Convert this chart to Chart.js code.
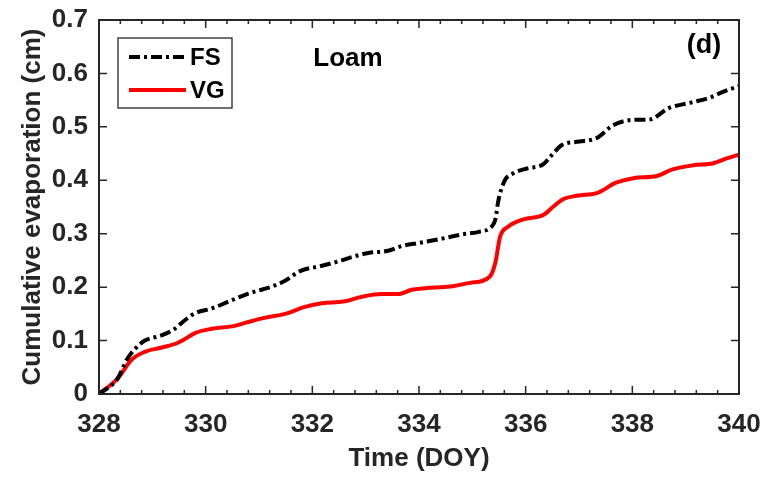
<!DOCTYPE html>
<html>
<head>
<meta charset="utf-8">
<script src="https://cdn.jsdelivr.net/npm/chart.js@4"></script>
<style>
  html, body { margin: 0; padding: 0; background: #ffffff; }
  #wrap { width: 771px; height: 477px; position: relative; }
</style>
</head>
<body>
<div id="wrap"><canvas id="myChart"></canvas></div>
<script>
// data (DOY vs cumulative evaporation, cm)
var fsDays = [328, 328.35, 328.52, 328.68, 328.86, 329.18, 329.39, 329.61, 329.8, 330.11, 330.43, 330.8, 331.08, 331.24, 331.49, 331.77, 332.18, 332.55, 332.8, 333.05, 333.42, 333.68, 334.02, 334.39, 334.83, 335.14, 335.36, 335.43, 335.49, 335.61, 335.77, 336.02, 336.33, 336.46, 336.68, 336.96, 337.33, 337.64, 338.02, 338.33, 338.68, 339.08, 339.46, 339.71, 340];
var fsValues = [0, 0.029, 0.064, 0.085, 0.1, 0.11, 0.12, 0.138, 0.151, 0.16, 0.173, 0.188, 0.196, 0.201, 0.212, 0.23, 0.24, 0.25, 0.258, 0.264, 0.268, 0.277, 0.283, 0.29, 0.299, 0.304, 0.313, 0.326, 0.363, 0.4, 0.413, 0.422, 0.43, 0.444, 0.466, 0.472, 0.479, 0.503, 0.513, 0.514, 0.535, 0.545, 0.555, 0.566, 0.576];

var vgDays = [328, 328.35, 328.61, 328.86, 329.18, 329.46, 329.58, 329.8, 330.11, 330.52, 330.74, 331.08, 331.49, 331.86, 332.18, 332.58, 332.93, 333.3, 333.61, 333.86, 334.11, 334.58, 334.96, 335.33, 335.43, 335.52, 335.67, 335.96, 336.33, 336.52, 336.71, 336.96, 337.36, 337.68, 338.02, 338.46, 338.74, 339.14, 339.52, 339.77, 340];
var vgValues = [0, 0.029, 0.064, 0.079, 0.087, 0.095, 0.101, 0.114, 0.122, 0.127, 0.133, 0.142, 0.15, 0.163, 0.17, 0.173, 0.182, 0.187, 0.187, 0.195, 0.198, 0.201, 0.208, 0.22, 0.245, 0.294, 0.313, 0.327, 0.335, 0.351, 0.365, 0.371, 0.377, 0.395, 0.404, 0.408, 0.42, 0.428, 0.432, 0.441, 0.448];

var seriesNames = ["FS", "VG"];
var xTickValues = [328, 330, 332, 334, 336, 338, 340];
var yTickValues = [0, 0.1, 0.2, 0.3, 0.4, 0.5, 0.6, 0.7];

var gFont = "'Liberation Sans', Arial, sans-serif";
var gAxisColor = "#262626";

function toPoints(paramX, paramY) {
   return paramX.map(function (item, i) {
      return { x: item, y: paramY[i] };
   });
}

//vẽ khung, vạch chia hướng vào trong, chú thích và nhãn
var framePlugin = {
   id: "frame",
   afterDraw: function (chart) {
      var ctx = chart.ctx;
      var area = chart.chartArea;
      var xScale = chart.scales.x;
      var yScale = chart.scales.y;
      ctx.save();
      ctx.strokeStyle = gAxisColor;
      ctx.lineWidth = 2;
      ctx.strokeRect(area.left, area.top, area.right - area.left, area.bottom - area.top);

      ctx.lineWidth = 1.5;
      ctx.beginPath();
      // minor ticks x (0.4 day)
      for (var k = 0; k <= 30; k++) {
         var px = xScale.getPixelForValue(328 + k * 0.4);
         var len = k % 5 == 0 ? 8 : 4;
         ctx.moveTo(px, area.bottom);
         ctx.lineTo(px, area.bottom - len);
         ctx.moveTo(px, area.top);
         ctx.lineTo(px, area.top + len);
      }
      yTickValues.forEach(function (v) {
         var py = yScale.getPixelForValue(v);
         ctx.moveTo(area.left, py);
         ctx.lineTo(area.left + 8, py);
         ctx.moveTo(area.right, py);
         ctx.lineTo(area.right - 8, py);
      });
      ctx.stroke();

      // legend box
      var bx = 118, by = 38, bw = 114, bh = 70;
      ctx.fillStyle = "#ffffff";
      ctx.fillRect(bx, by, bw, bh);
      ctx.strokeStyle = "#404040";
      ctx.lineWidth = 1.5;
      ctx.strokeRect(bx, by, bw, bh);
      ctx.font = "bold 24px " + gFont;
      ctx.textBaseline = "middle";
      ctx.textAlign = "left";
      chart.data.datasets.forEach(function (ds, i) {
         var ly = i == 0 ? 57 : 90;
         ctx.strokeStyle = ds.borderColor;
         ctx.lineWidth = ds.borderWidth;
         ctx.setLineDash(ds.borderDash || []);
         ctx.beginPath();
         ctx.moveTo(129, ly);
         ctx.lineTo(186, ly);
         ctx.stroke();
         ctx.setLineDash([]);
         ctx.fillStyle = "#000000";
         ctx.fillText(ds.label, 190, ly + 1);
      });

      // soil label and panel letter
      ctx.font = "bold 26px " + gFont;
      ctx.textAlign = "center";
      ctx.fillStyle = "#000000";
      ctx.fillText("Loam", 348, 59);
      ctx.font = "bold 27px " + gFont;
      ctx.fillText("(d)", 704, 46);
      ctx.restore();
   },
};

var chartCanvas = document.getElementById("myChart").getContext("2d");
var myChart = new Chart(chartCanvas, {
   type: "line",
   data: {
      datasets: [
         {
            label: seriesNames[0],
            data: toPoints(fsDays, fsValues),
            borderColor: "#000000",
            borderWidth: 4,
            borderDash: [11, 4, 3, 4],
            pointRadius: 0,
            cubicInterpolationMode: "monotone",
            fill: false,
         },
         {
            label: seriesNames[1],
            data: toPoints(vgDays, vgValues),
            borderColor: "#ff0000",
            borderWidth: 4,
            pointRadius: 0,
            cubicInterpolationMode: "monotone",
            fill: false,
         },
      ],
   },
   options: {
      responsive: true,
      maintainAspectRatio: false,
      animation: false,
      layout: { padding: { left: 0, top: 20, right: 32, bottom: 0 } },
      plugins: {
         legend: { display: false },
         tooltip: { enabled: false },
      },
      scales: {
         x: {
            type: "linear",
            min: 328,
            max: 340,
            afterFit: function (scale) {
               scale.height = 83;
               scale.paddingLeft = 0;
               scale.paddingRight = 0;
            },
            afterBuildTicks: function (scale) {
               scale.ticks = xTickValues.map(function (v) {
                  return { value: v };
               });
            },
            grid: { display: false, drawTicks: false },
            border: { display: false },
            ticks: {
               padding: 15,
               maxRotation: 0,
               color: gAxisColor,
               font: { family: gFont, size: 26, weight: "bold" },
            },
            title: {
               display: true,
               text: "Time (DOY)",
               color: gAxisColor,
               padding: { top: 0, bottom: 3 },
               font: { family: gFont, size: 26, weight: "bold" },
            },
         },
         y: {
            type: "linear",
            min: 0,
            max: 0.7,
            afterFit: function (scale) {
               scale.width = 99;
               scale.paddingTop = 0;
               scale.paddingBottom = 0;
            },
            afterBuildTicks: function (scale) {
               scale.ticks = yTickValues.map(function (v) {
                  return { value: v };
               });
            },
            grid: { display: false, drawTicks: false },
            border: { display: false },
            ticks: {
               padding: 11,
               color: gAxisColor,
               font: { family: gFont, size: 26, weight: "bold" },
               callback: function (value) {
                  return value == 0 ? "0" : value.toFixed(1);
               },
            },
            title: {
               display: true,
               text: "Cumulative evaporation (cm)",
               color: gAxisColor,
               padding: { top: 17, bottom: 0 },
               font: { family: gFont, size: 26, weight: "bold" },
            },
         },
      },
   },
   plugins: [framePlugin],
});
</script>
</body>
</html>
